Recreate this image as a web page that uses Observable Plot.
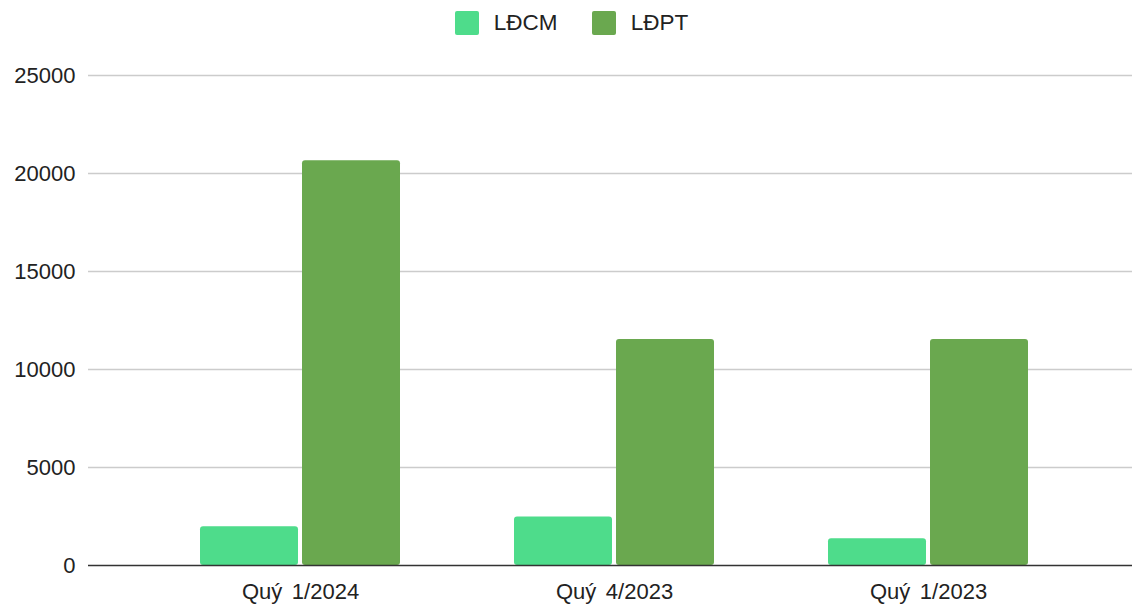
<!DOCTYPE html>
<html><head><meta charset="utf-8">
<script src="https://cdn.jsdelivr.net/npm/d3@7"></script>
<script src="https://cdn.jsdelivr.net/npm/@observablehq/plot@0.6"></script>
<style>
body{margin:0;background:#fff;font-family:"Liberation Sans",Arial,sans-serif;}
#legend{height:45px;display:flex;align-items:center;justify-content:center;padding-left:9px;font-size:22.5px;color:#222;}
.item{display:flex;align-items:center;}
.sw{width:24px;height:24px;border-radius:2px;margin-right:15px;}
.item + .item{margin-left:34px;}
#chart svg{display:block;}
#chart [aria-label^="x-axis"] text{word-spacing:3.5px;}
</style></head><body>
<div id="legend"></div><div id="chart"></div>
<script>
const quarters = ["Quý 1/2024", "Quý 4/2023", "Quý 1/2023"];
const seriesNames = ["LĐCM", "LĐPT"];
const ldcm = [1975, 2480, 1360];
const ldpt = [20650, 11530, 11530];
const yTicks = [0, 5000, 10000, 15000, 20000, 25000];
const colors = ["#4edc8b", "#6aa84f"];

const legend = document.getElementById("legend");
seriesNames.forEach((n, i) => {
  const it = document.createElement("div"); it.className = "item";
  const sw = document.createElement("div"); sw.className = "sw"; sw.style.background = colors[i];
  const t = document.createElement("span"); t.textContent = n;
  it.appendChild(sw); it.appendChild(t); legend.appendChild(it);
});

const d1 = quarters.map((q, i) => ({q, v: ldcm[i]}));
const d2 = quarters.map((q, i) => ({q, v: ldpt[i]}));

const chart = Plot.plot({
  width: 1134, height: 562,
  marginLeft: 88, marginRight: 2, marginTop: 30, marginBottom: 42,
  style: {fontFamily: '"Liberation Sans", Arial, sans-serif', fontSize: "22px", color: "#222", background: "#fff"},
  x: {domain: quarters, insetLeft: 55, insetRight: 47, paddingInner: 0.363, paddingOuter: 0.1815, label: null, tickSize: 0, tickPadding: 18},
  y: {domain: [0, 25000], ticks: yTicks, tickFormat: d3.format("d"), label: null, tickSize: 0, tickPadding: 13},
  marks: [
    Plot.ruleY(yTicks.filter(d => d > 0), {stroke: "#cccccc", strokeWidth: 1.5}),
    Plot.barY(d1, {x: "q", y: "v", fill: colors[0], insetRight: 102, rx: 3}),
    Plot.barY(d2, {x: "q", y: "v", fill: colors[1], insetLeft: 102, rx: 3}),
    Plot.ruleY([0], {stroke: "#333333", strokeWidth: 1.5})
  ]
});
document.getElementById("chart").appendChild(chart);
</script>
</body></html>
